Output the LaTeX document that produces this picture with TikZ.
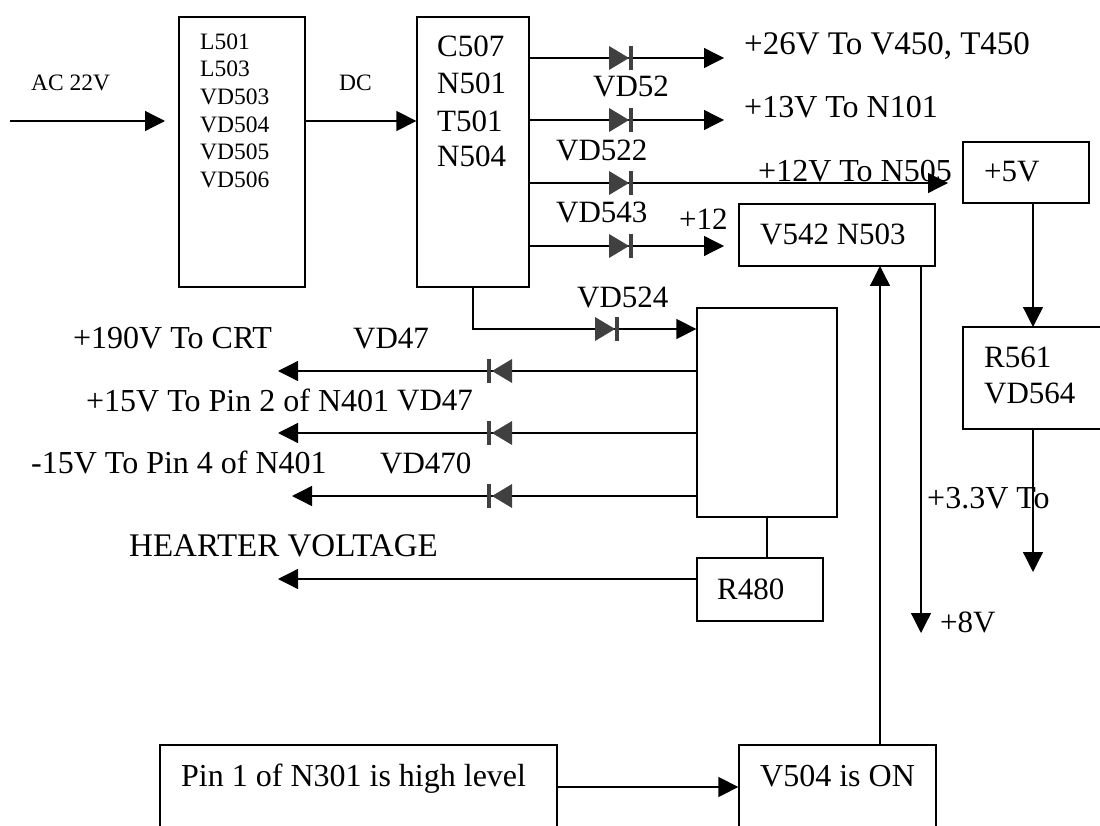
\documentclass[tikz,border=0pt]{standalone}
\usepackage{fontspec}
\setmainfont{Liberation Serif}
\usetikzlibrary{positioning,arrows.meta}
\tikzset{
  block/.style = {draw, line width=1.3pt, inner sep=0pt},
  lbl/.style = {inner sep=0pt, anchor=base west, font=\fontsize{31}{31}\selectfont},
  longlbl/.style = {lbl, font=\fontsize{32}{32}\selectfont},
  widelbl/.style = {lbl, font=\fontsize{33}{33}\selectfont},
  smalllbl/.style = {inner sep=0pt, anchor=base west, font=\fontsize{23.5}{23.5}\selectfont},
  wire/.style = {line width=1.3pt},
  feed/.style = {wire, -{Triangle[length=20pt,width=20pt]}}
}
\newcommand{\diodeR}[1]{%
  \fill[black!75] (#1) ++(-16,-12) -- ++(20,12) -- ++(-20,12) -- cycle;
  \draw[line width=4pt,black!75] (#1) ++(6,-12) -- ++(0,24);
}
\newcommand{\diodeL}[1]{%
  \fill[black!75] (#1) ++(12,-12) -- ++(-20,12) -- ++(20,12) -- cycle;
  \draw[line width=4pt,black!75] (#1) ++(-11,-12) -- ++(0,24);
}
\begin{document}
\begin{tikzpicture}[x=1pt,y=-1pt]
  \useasboundingbox (0,0) rectangle (1100,826);
  \clip (0,0) rectangle (1100,826);
  % blocks
  \node[block,minimum width=126pt,minimum height=270pt] (rect) at (242,152) {};
  \node[block,minimum width=112pt,minimum height=270pt] (conv) at (473,152) {};
  \node[block,minimum width=196pt,minimum height=62pt] (v542) at (837,235) {};
  \node[block,minimum width=126pt,minimum height=61pt] (five) at (1026,172.5) {};
  \node[block,minimum width=147pt,minimum height=102pt] (r561) at (1036.5,378) {};
  \node[block,minimum width=140pt,minimum height=209pt] (fbt) at (767,412.5) {};
  \node[block,minimum width=126pt,minimum height=63pt] (r480) at (760,589.5) {};
  % these two run off the bottom of the page
  \node[block,minimum width=397pt,minimum height=120pt] (pinhigh) at (358.5,805) {};
  \node[block,minimum width=197pt,minimum height=120pt] (v504) at (837.5,805) {};

  % free ends
  \coordinate (acin) at (10,121);
  \coordinate (acout) at (165,121);
  \coordinate (o26) at (724,58);
  \coordinate (o13) at (724,120);
  \coordinate (o12) at (948,183);
  \coordinate (o5) at (724,246);
  \coordinate (l1) at (278,371);
  \coordinate (l2) at (278,433);
  \coordinate (l3) at (292,496);
  \coordinate (l4) at (278,579);
  \coordinate (t2) at (0,329);
  \coordinate (v8) at (921,633);
  \coordinate (v33) at (1033,572);

  \draw[feed] (acin) -- (acout);
  \draw[feed] (rect.east |- acin) -- (conv.west |- acin);
  \draw[feed] (conv.east |- o26) -- (o26);
  \draw[feed] (conv.east |- o13) -- (o13);
  \draw[feed] (conv.east |- o12) -- (o12);
  \draw[feed] (conv.east |- o5) -- (o5);
  \draw[feed] (conv.south) |- (fbt.west |- t2);
  \draw[feed] (fbt.west |- l1) -- (l1);
  \draw[feed] (fbt.west |- l2) -- (l2);
  \draw[feed] (fbt.west |- l3) -- (l3);
  \draw[feed] (r480.west |- l4) -- (l4);
  \draw[wire] (fbt.south) -- (fbt.south |- r480.north);
  \draw[feed] (pinhigh.east |- 0,787) -- (v504.west |- 0,787);
  \draw[feed] (880,745) -- (880,266);
  \draw[feed] (v8 |- v542.south) -- (v8);
  \draw[feed] (1033,203) -- (1033,327);
  \draw[feed] (v33 |- r561.south) -- (v33);

  % diodes
  \diodeR{625,58}
  \diodeR{625,120}
  \diodeR{625,183}
  \diodeR{625,246}
  \diodeR{611,329}
  \diodeL{500,371}
  \diodeL{500,433}
  \diodeL{500,496}

  % labels
  \node[smalllbl] (ac) at (31,91) {AC 22V};
  \node[smalllbl] (dc) at (339,91) {DC};
  \node[smalllbl] (t501) at (200,50) {L501};
  \node[smalllbl] (t503) at (200,77) {L503};
  \node[smalllbl] (t5503) at (200,105) {VD503};
  \node[smalllbl] (t5504) at (200,133) {VD504};
  \node[smalllbl] (t5505) at (200,160) {VD505};
  \node[smalllbl] (t5506) at (200,188) {VD506};
  \node[lbl] (c507) at (437,57) {C507};
  \node[lbl] (n501) at (437,94) {N501};
  \node[lbl] (t1501) at (437,132) {T501};
  \node[lbl] (n504) at (437,167) {N504};
  \node[widelbl] (v26) at (744,55) {+26V To V450, T450};
  \node[longlbl] (v13) at (744,118) {+13V To N101};
  \node[longlbl] (v12) at (758,182) {+12V To N505};
  \node[lbl] (p12) at (679,230) {+12};
  \node[lbl] (d52) at (593,97) {VD52};
  \node[lbl] (d522) at (556,161) {VD522};
  \node[lbl] (d543) at (556,223) {VD543};
  \node[lbl] (d524) at (577,307) {VD524};
  \node[lbl] (tv542) at (760,245) {V542 N503};
  \node[lbl] (t5v) at (984,182) {+5V};
  \node[lbl] (tr561) at (984,367) {R561};
  \node[lbl] (tvd564) at (984,403) {VD564};
  \node[longlbl] (crt) at (73,348) {+190V To CRT};
  \node[lbl] (d47a) at (353,348) {VD47};
  \node[longlbl] (pin2) at (86,411) {+15V To Pin 2 of N401};
  \node[lbl] (d47b) at (397,410) {VD47};
  \node[longlbl] (pin4) at (31,473) {-15V To Pin 4 of N401};
  \node[lbl] (d470) at (380,473) {VD470};
  \node[widelbl] (heat) at (129,556) {HEARTER VOLTAGE};
  \node[lbl] (tr480) at (717,599) {R480};
  \node[longlbl] (v33t) at (927,508) {+3.3V To};
  \node[lbl] (v8t) at (940,632) {+8V};
  \node[longlbl] (pinl) at (181,786) {Pin 1 of N301 is high level};
  \node[longlbl] (tv504) at (760,786) {V504 is ON};
\end{tikzpicture}
\end{document}
